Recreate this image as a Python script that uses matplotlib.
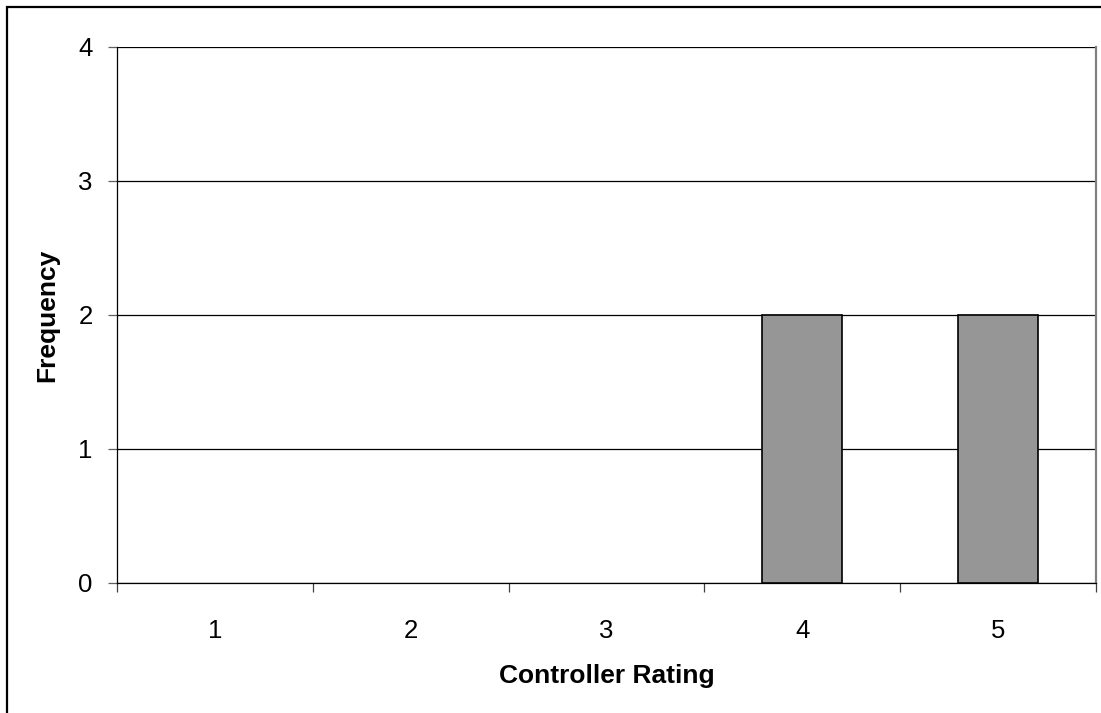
import matplotlib.pyplot as plt
from matplotlib.patches import Rectangle

# controller rating histogram
ratings = [1, 2, 3, 4, 5]
frequency = [0, 0, 0, 2, 2]
y_ticks = [0, 1, 2, 3, 4]

plt.rcParams['font.family'] = ['Liberation Sans', 'DejaVu Sans']

W, H = 1101, 713
fig = plt.figure(figsize=(W / 100, H / 100), dpi=100)

# outer chart frame
fig.patches.append(Rectangle((7 / W, -0.05), 1.1, 1 - 7 / H + 0.05,
                             transform=fig.transFigure, fill=False,
                             edgecolor='black', linewidth=1.6))

ax = fig.add_axes([117 / W, 1 - 583 / H, (1096 - 117) / W, (583 - 47) / H])

edge_w = [1.2 if f > 0 else 0 for f in frequency]
ax.bar(ratings, frequency, width=0.41, color='#969696', edgecolor='black',
       linewidth=edge_w, zorder=3)

ax.set_xlim(0.5, 5.5)
ax.set_ylim(0, 4)
ax.set_yticks(y_ticks)
ax.yaxis.grid(True, color='black', linewidth=0.9, zorder=0)
ax.set_axisbelow(True)

ax.set_xticks(ratings)
ax.set_xticks([r - 0.5 for r in ratings] + [5.5], minor=True)
ax.tick_params(axis='x', which='major', length=0, labelsize=18.5, pad=26)
ax.tick_params(axis='x', which='minor', length=6.5, width=0.9, color='#404040')
ax.tick_params(axis='y', length=6.5, width=0.9, color='#606060', labelsize=18.5, pad=11)

ax.spines['top'].set_visible(False)
ax.spines['right'].set_color('#808080')
ax.spines['right'].set_linewidth(1.6)
ax.spines['left'].set_linewidth(0.9)
ax.spines['bottom'].set_linewidth(0.9)

ax.set_xlabel('Controller Rating', fontsize=19, fontweight='bold', labelpad=15)
ax.set_ylabel('Frequency', fontsize=19, fontweight='bold', labelpad=14)

fig.savefig('out.png', dpi=100)
